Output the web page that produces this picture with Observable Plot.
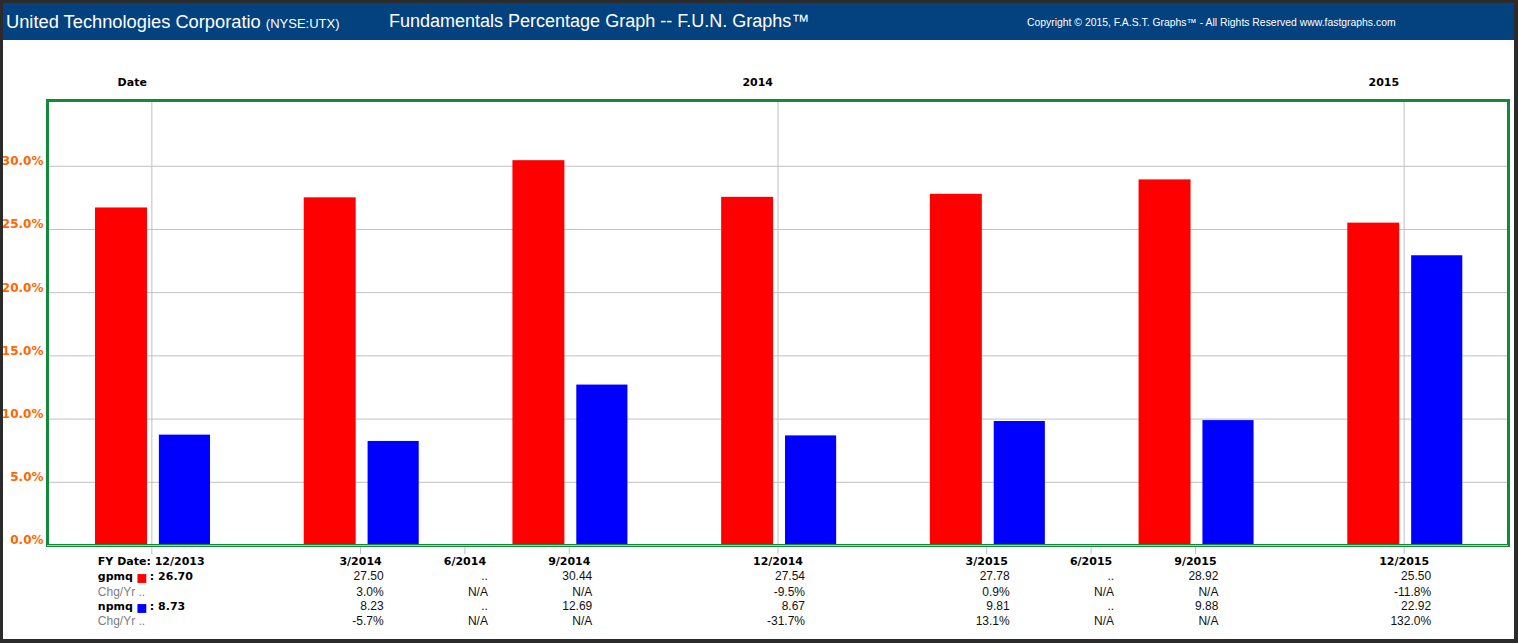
<!DOCTYPE html>
<html>
<head>
<meta charset="utf-8">
<script src="https://cdn.jsdelivr.net/npm/d3@7"></script>
<script src="https://cdn.jsdelivr.net/npm/@observablehq/plot@0.6"></script>
<style>
  html, body { margin: 0; padding: 0; background: #2b2b2b; }
  #panel { position: absolute; left: 3px; top: 3px; width: 1511px; height: 636px; background: #fff; overflow: hidden; }
  #header { position: relative; height: 37px; background: #03427f; color: #fff; font-family: "Liberation Sans", Arial, sans-serif; }
  #header span { position: absolute; white-space: nowrap; }
  #chart svg { display: block; }
</style>
</head>
<body>
<div id="panel">
  <div id="header">
    <span style="left:3px; top:8px; font-size:18.3px;">United Technologies Corporatio <span style="position:static; font-size:13px;">(NYSE:UTX)</span></span>
    <span style="left:386px; top:8px; font-size:18px;">Fundamentals Percentage Graph -- F.U.N. Graphs™</span>
    <span style="left:1024px; top:14px; font-size:10.4px;">Copyright © 2015, F.A.S.T. Graphs™ - All Rights Reserved www.fastgraphs.com</span>
  </div>
  <div id="chart"></div>
</div>
<script>
// ---- data ----
const dates    = ["12/2013","3/2014","6/2014","9/2014","12/2014","3/2015","6/2015","9/2015","12/2015"];
const gpmq     = [26.70, 27.50, null, 30.44, 27.54, 27.78, null, 28.92, 25.50];
const gpmqChg  = [null, 3.0, null, null, -9.5, 0.9, null, null, -11.8];
const npmq     = [8.73, 8.23, null, 12.69, 8.67, 9.81, null, 9.88, 22.92];
const npmqChg  = [null, -5.7, null, null, -31.7, 13.1, null, null, 132.0];
const seriesNames  = ["gpmq", "npmq"];
const seriesColors = ["#ff0000", "#0000ff"];
const topLabels = ["Date", "2014", "2015"];
const yTicks = [0, 5, 10, 15, 20, 25, 30];

// ---- layout of columns: reported quarters evenly spaced, missing quarters halfway ----
let k = 0;
const pos = dates.map((d, i) => gpmq[i] != null ? k++ : null);
pos.forEach((p, i) => { if (p == null) pos[i] = (pos[i - 1] + pos[i + 1]) / 2; });

const cols = dates.map((d, i) => ({
  date: d, pos: pos[i], wide: d.length > 6,
  g: gpmq[i] == null ? ".." : gpmq[i].toFixed(2),
  gc: gpmqChg[i] == null ? "N/A" : gpmqChg[i].toFixed(1) + "%",
  n: npmq[i] == null ? ".." : npmq[i].toFixed(2),
  nc: npmqChg[i] == null ? "N/A" : npmqChg[i].toFixed(1) + "%"
}));
const bodyCols = cols.slice(1);
const first = cols[0];

const bars = [];
dates.forEach((d, i) => {
  if (gpmq[i] != null) bars.push({pos: pos[i], series: "gpmq", value: gpmq[i]});
  if (npmq[i] != null) bars.push({pos: pos[i], series: "npmq", value: npmq[i]});
});
const barSpan = {gpmq: [-0.27, -0.021], npmq: [0.036, 0.281]};

const yearEnds = cols.filter(c => c.date.startsWith("12/")).map(c => c.pos);
const topRows = topLabels.map((t, i) => ({text: t, pos: yearEnds[i]}));

const green = "#14893a";
const grid = "#c0c0c0";
const bold = {fontFamily: "DejaVu Sans", fontWeight: "bold", fontSize: 11};
const thin = {fontFamily: "Liberation Sans", fontSize: 12, fill: "#111"};
const rowDy = [19, 34, 50, 64, 79];

function valueMarks(filter, dx) {
  const rows = bodyCols.filter(filter);
  return ["g", "gc", "n", "nc"].map((key, j) =>
    Plot.text(rows, {x: "pos", text: key, frameAnchor: "bottom", dy: rowDy[j + 1], dx, textAnchor: "end", ...thin})
  );
}

const chart = Plot.plot({
  width: 1511,
  height: 599,
  marginLeft: 44,
  marginRight: 6,
  marginTop: 60,
  marginBottom: 94,
  style: {background: "#fff", fontFamily: "DejaVu Sans"},
  x: {type: "linear", domain: [-0.5, 6.5], axis: null},
  y: {domain: [0, 35.2], axis: null},
  color: {domain: seriesNames, range: seriesColors},
  marks: [
    Plot.gridY(yTicks.slice(1), {stroke: grid, strokeOpacity: 1}),
    Plot.ruleX(yearEnds, {stroke: grid, strokeOpacity: 1}),
    Plot.rectY(bars, {
      x1: d => d.pos + barSpan[d.series][0],
      x2: d => d.pos + barSpan[d.series][1],
      y1: 0, y2: "value", fill: "series"
    }),
    Plot.axisY({ticks: yTicks, tickSize: 0, tickPadding: 4, label: null,
      tickFormat: d => d.toFixed(1) + "%", fill: "#ff6600", color: "#ff6600", dy: -5,
      fontFamily: "DejaVu Sans", fontWeight: "bold", fontSize: 12}),
    Plot.axisX({ticks: pos, tickSize: 9, tickFormat: () => "", label: null, stroke: "#b8c2cc", color: "#b8c2cc"}),
    Plot.frame({stroke: green, strokeWidth: 3}),
    Plot.ruleY([0], {stroke: "#b8c0c8"}),
    // top labels
    Plot.text(topRows, {x: "pos", text: "text", frameAnchor: "top", dy: -22, dx: -5, textAnchor: "end", fill: "#000", ...bold}),
    // table headers
    Plot.text(bodyCols, {x: "pos", text: "date", frameAnchor: "bottom", dy: rowDy[0], textAnchor: "middle", fill: "#000", ...bold}),
    ...valueMarks(c => !c.wide, 23),
    ...valueMarks(c => c.wide, 27),
    // first column (legend)
    Plot.text([first], {x: "pos", text: d => "FY Date: " + d.date, frameAnchor: "bottom", dy: rowDy[0], dx: -54, textAnchor: "start", fill: "#000", ...bold}),
    Plot.text([first], {x: "pos", text: () => seriesNames[0], frameAnchor: "bottom", dy: rowDy[1], dx: -54, textAnchor: "start", fill: "#000", ...bold}),
    Plot.dot([first], {x: "pos", frameAnchor: "bottom", dy: rowDy[1] - 1, dx: -10, symbol: "square", r: 5, fill: seriesColors[0], stroke: "none"}),
    Plot.text([first], {x: "pos", text: d => ": " + d.g, frameAnchor: "bottom", dy: rowDy[1], dx: -2, textAnchor: "start", fill: "#000", ...bold}),
    Plot.text([first], {x: "pos", text: () => "Chg/Yr ..", frameAnchor: "bottom", dy: rowDy[2], dx: -54, textAnchor: "start", ...thin, fill: "#808080"}),
    Plot.text([first], {x: "pos", text: () => seriesNames[1], frameAnchor: "bottom", dy: rowDy[3], dx: -54, textAnchor: "start", fill: "#000", ...bold}),
    Plot.dot([first], {x: "pos", frameAnchor: "bottom", dy: rowDy[3] - 1, dx: -10, symbol: "square", r: 5, fill: seriesColors[1], stroke: "none"}),
    Plot.text([first], {x: "pos", text: d => ": " + d.n, frameAnchor: "bottom", dy: rowDy[3], dx: -2, textAnchor: "start", fill: "#000", ...bold}),
    Plot.text([first], {x: "pos", text: () => "Chg/Yr ..", frameAnchor: "bottom", dy: rowDy[4], dx: -54, textAnchor: "start", ...thin, fill: "#808080"})
  ]
});
document.getElementById("chart").appendChild(chart);
</script>
</body>
</html>
